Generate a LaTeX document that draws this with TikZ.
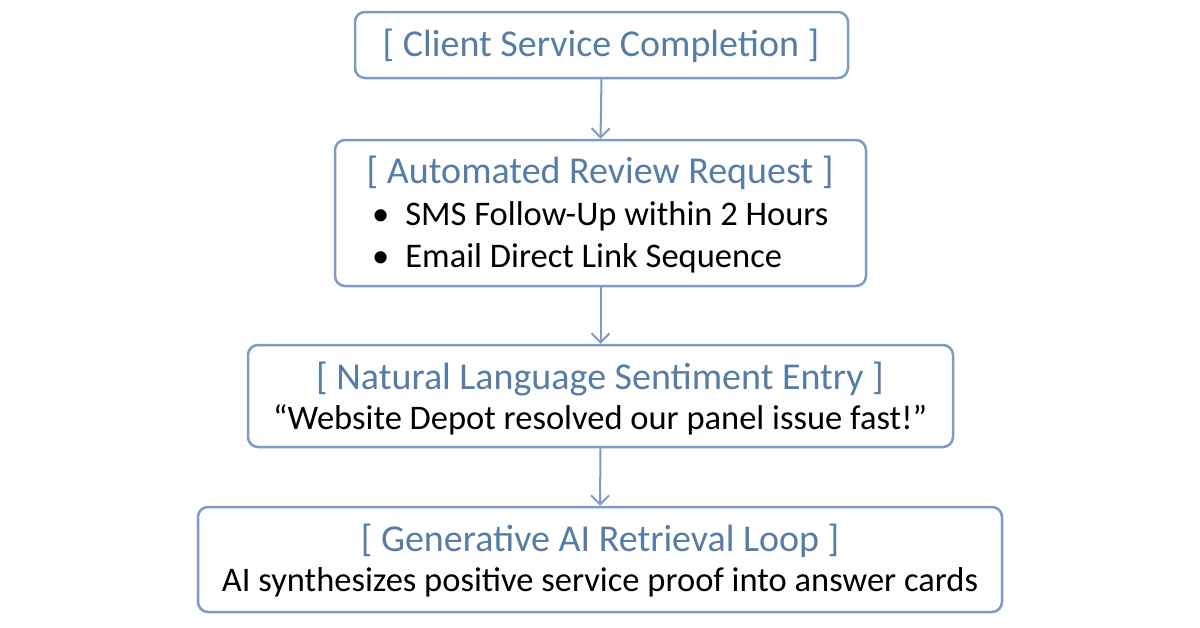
\documentclass[tikz,border=0pt]{standalone}
\usepackage{fontspec}
\setmainfont{Carlito}
\usetikzlibrary{arrows.meta}
\definecolor{bord}{RGB}{125,155,195}
\definecolor{ttl}{RGB}{85,125,165}
\begin{document}
\begin{tikzpicture}[x=1pt,y=-1pt,
  box/.style={draw=bord,line width=2.5pt,rounded corners=10pt,fill=white,inner sep=0},
  ttl/.style={text=ttl,font=\fontsize{38}{40}\selectfont,inner sep=0},
  txt/.style={text=black,font=\fontsize{34.5}{38}\selectfont,inner sep=0},
  arr/.style={draw=bord,line width=2pt,-{Straight Barb[length=9pt,width=18pt]}}]
\useasboundingbox (0,0) rectangle (1200,627);
\node[box,minimum width=493pt,minimum height=66pt] (b1) at (601.5,45) {};
\node[box,minimum width=531pt,minimum height=146pt] (b2) at (600.5,213) {};
\node[box,minimum width=705pt,minimum height=102pt] (b3) at (600.5,396) {};
\node[box,minimum width=804pt,minimum height=105pt] (b4) at (600,559.5) {};
\node[ttl] (t1) at (601,46) {[ Client Service Completion ]};
\node[ttl] (t2) at (600,173) {[ Automated Review Request ]};
\node[txt,anchor=west] (l1) at (372,216) {•\hspace{16pt}SMS Follow-Up within 2 Hours};
\node[txt,anchor=west] (l2) at (372,258) {•\hspace{16pt}Email Direct Link Sequence};
\node[ttl] (t3) at (600,379) {[ Natural Language Sentiment Entry ]};
\node[txt] (q) at (600,420) {“Website Depot resolved our panel issue fast!”};
\node[ttl] (t4) at (600,541) {[ Generative AI Retrieval Loop ]};
\node[txt] (s) at (600,582) {AI synthesizes positive service proof into answer cards};
\draw[arr] (b1.south) -- (b2.north);
\draw[arr] (b2.south) -- (b3.north);
\draw[arr] (b3.south) -- (b4.north);
\end{tikzpicture}
\end{document}
